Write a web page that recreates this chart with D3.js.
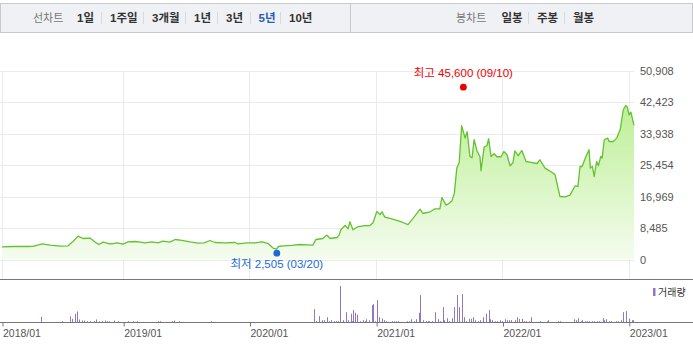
<!DOCTYPE html>
<html lang="ko">
<head>
<meta charset="utf-8">
<script src="https://cdn.jsdelivr.net/npm/d3@7"></script>
<style>
  body { margin: 0; background: #fff; }
  svg { display: block; font-family: "Liberation Sans", "Noto Sans CJK KR", sans-serif; }
  .grid line { stroke: #ebebeb; stroke-width: 1; shape-rendering: crispEdges; }
  .frame { stroke: #777; stroke-width: 1; shape-rendering: crispEdges; }
  .price-line { fill: none; stroke: #62c230; stroke-width: 1.3; stroke-linejoin: round; }
  .vol-bar { fill: #8f79c7; }
  .axis text { fill: #555; }
  .tab { font-size: 11.5px; font-weight: bold; fill: #333; }
  .tab-title { font-size: 11px; fill: #777; }
</style>
</head>
<body>
<svg id="chart" width="693" height="354"></svg>
<script>
// ---- data ----
const dateRange = ["2018-01-16", "2023-01-16"];
const xTickDates = ["2018-01-16", "2019-01-01", "2020-01-01", "2021-01-01", "2022-01-01", "2023-01-01"];
const yTickValues = [0, 8485, 16969, 25454, 33938, 42423, 50908];

const priceDates = [
  "2018-01-16", "2018-02-17", "2018-03-29", "2018-04-16", "2018-05-12", "2018-06-04", "2018-07-03", "2018-07-26",
  "2018-08-09", "2018-08-24", "2018-09-07", "2018-09-27", "2018-10-12", "2018-10-23", "2018-11-04", "2018-11-18",
  "2018-11-30", "2018-12-14",
  "2019-01-01", "2019-01-15", "2019-02-04", "2019-02-19", "2019-03-05", "2019-03-25", "2019-04-12", "2019-04-26",
  "2019-05-16", "2019-05-31", "2019-06-20", "2019-07-13", "2019-08-05", "2019-08-23", "2019-09-09", "2019-09-23",
  "2019-10-22", "2019-11-20", "2019-11-29", "2019-12-25",
  "2020-01-17", "2020-02-06", "2020-02-23", "2020-03-09", "2020-03-19", "2020-03-25", "2020-04-07", "2020-05-03",
  "2020-05-26", "2020-06-15", "2020-07-02", "2020-07-11", "2020-07-31", "2020-08-12", "2020-08-21", "2020-09-10",
  "2020-09-16", "2020-09-21", "2020-10-03", "2020-10-12", "2020-10-17", "2020-10-26", "2020-11-09", "2020-11-24",
  "2020-12-14", "2020-12-23",
  "2021-01-03", "2021-01-12", "2021-01-18", "2021-01-26", "2021-02-10", "2021-03-02", "2021-03-19", "2021-04-03",
  "2021-04-17", "2021-05-08", "2021-05-16", "2021-06-06", "2021-06-20", "2021-07-04", "2021-07-10", "2021-07-22",
  "2021-08-02", "2021-08-08", "2021-08-15", "2021-08-22", "2021-08-29", "2021-09-05", "2021-09-15", "2021-09-21",
  "2021-09-29", "2021-10-05", "2021-10-11", "2021-10-19", "2021-10-28", "2021-10-31", "2021-11-09", "2021-11-17",
  "2021-11-22", "2021-11-29", "2021-12-08", "2021-12-16", "2021-12-28",
  "2022-01-05", "2022-01-14", "2022-01-23", "2022-01-31", "2022-02-06", "2022-02-15", "2022-02-26", "2022-03-10",
  "2022-03-21", "2022-04-11", "2022-04-19", "2022-05-04", "2022-05-27", "2022-06-02", "2022-06-16", "2022-07-01",
  "2022-07-15", "2022-07-30", "2022-08-07", "2022-08-13", "2022-08-19", "2022-08-30", "2022-09-08", "2022-09-12",
  "2022-09-18", "2022-09-23", "2022-09-30", "2022-10-05", "2022-10-12", "2022-10-16", "2022-10-22", "2022-11-01",
  "2022-11-05", "2022-11-17", "2022-11-27", "2022-12-07", "2022-12-16", "2022-12-23", "2022-12-27",
  "2023-01-02", "2023-01-07", "2023-01-16"
];
const priceValues = [
  3420, 3500, 3500, 3560, 4230, 3880, 3610, 3690,
  4850, 6300, 5660, 5770, 4690, 4040, 4690, 4310,
  4230, 4500,
  4150, 4770, 4850, 4690, 4500, 4770, 4500, 4960,
  4690, 5390, 5170, 4770, 4420, 4500, 5120, 4580,
  4500, 4580, 4230, 4500,
  4500, 4770, 4360, 3070, 2800, 3500, 3690, 3830,
  4040, 3960, 3880, 5390, 5660, 6570, 5660, 5930,
  6570, 8000, 9160, 8270, 10160, 8000, 8810, 9080,
  9160, 9890,
  12930, 12120, 12850, 11420, 11050, 10510, 9970, 9400,
  11000, 13580, 12390, 12850, 13660, 13660, 16700, 14650,
  15280, 15800, 17890, 24620, 26130, 36020, 32700, 34400,
  27750, 27400, 32250, 29370, 27670, 23900, 30280, 30630,
  32520, 27750, 28480, 27670, 27670,
  29100, 28210, 25240, 26050, 29280, 27940, 29370, 26400,
  26240, 25860, 26860, 24620, 23280, 22820, 16970, 16890,
  17350, 19850, 19670, 25050, 25050, 27750, 29550, 24620,
  25050, 22360, 26400, 25240, 27750, 27320, 32250, 32700,
  31790, 31790, 32700, 34940, 40330, 41490, 41220,
  38980, 39710, 36100
];

const volumeDates = [
  "2018-05-10", "2018-07-09", "2018-08-01", "2018-08-06", "2018-08-16", "2018-08-22", "2018-08-27", "2018-09-03",
  "2018-09-10", "2018-09-19", "2018-09-27", "2018-10-08", "2018-10-15", "2018-10-23", "2018-10-31", "2018-11-09",
  "2018-11-14", "2018-11-20", "2018-12-05", "2018-12-18",
  "2019-01-16", "2019-01-30", "2019-02-11", "2019-04-11", "2019-04-17", "2019-05-21", "2019-05-29", "2019-06-10",
  "2019-09-11",
  "2020-07-06", "2020-07-10", "2020-07-21", "2020-07-28", "2020-08-03", "2020-08-11", "2020-08-19", "2020-08-25",
  "2020-09-01", "2020-09-08", "2020-09-14", "2020-09-18", "2020-09-28", "2020-10-05", "2020-10-12", "2020-10-19",
  "2020-10-22", "2020-10-27", "2020-11-02", "2020-11-06", "2020-11-16", "2020-11-23", "2020-11-30", "2020-12-04",
  "2020-12-10", "2020-12-21", "2020-12-24", "2020-12-30",
  "2021-01-04", "2021-01-08", "2021-01-18", "2021-01-25", "2021-01-29", "2021-02-15", "2021-02-22", "2021-02-26",
  "2021-03-04", "2021-03-30", "2021-04-05", "2021-04-12", "2021-04-19", "2021-04-26", "2021-05-04", "2021-05-07",
  "2021-05-17", "2021-05-24", "2021-05-31", "2021-06-04", "2021-06-10", "2021-06-21", "2021-06-28", "2021-07-05",
  "2021-07-12", "2021-07-16", "2021-07-26", "2021-07-30", "2021-08-09", "2021-08-13", "2021-08-24", "2021-08-27",
  "2021-09-06", "2021-09-13", "2021-09-17", "2021-09-27", "2021-10-01", "2021-10-08", "2021-10-15", "2021-10-22",
  "2021-10-29", "2021-11-05", "2021-11-15", "2021-11-22", "2021-11-26", "2021-12-03", "2021-12-10", "2021-12-17",
  "2021-12-24", "2021-12-30",
  "2022-01-07", "2022-01-13", "2022-01-19", "2022-01-25", "2022-02-07", "2022-02-11", "2022-02-17", "2022-02-25",
  "2022-03-04", "2022-03-11", "2022-03-18", "2022-03-24", "2022-04-18", "2022-05-09", "2022-05-13", "2022-06-10",
  "2022-06-17", "2022-07-26", "2022-08-01", "2022-08-08", "2022-08-15", "2022-08-19", "2022-08-26", "2022-09-02",
  "2022-09-09", "2022-09-16", "2022-09-23", "2022-09-30", "2022-10-06", "2022-10-17", "2022-10-21", "2022-10-27",
  "2022-11-04", "2022-11-10", "2022-11-25", "2022-11-30", "2022-12-09", "2022-12-16", "2022-12-23",
  "2023-01-02", "2023-01-09", "2023-01-13"
];
const volumeValues = [
  56000, 13000, 61000, 37000, 87000, 110000, 30000, 20000,
  20000, 13000, 13000, 16000, 30000, 13000, 13000, 20000,
  13000, 13000, 20000, 13000,
  13000, 13000, 13000, 13000, 13000, 13000, 20000, 13000,
  13000,
  133000, 13000, 63000, 23000, 23000, 53000, 13000, 23000,
  13000, 13000, 13000, 363000, 23000, 103000, 23000, 87000,
  13000, 123000, 97000, 77000, 13000, 23000, 13000, 33000,
  23000, 173000, 183000, 13000,
  223000, 53000, 40000, 23000, 13000, 13000, 13000, 13000,
  13000, 13000, 13000, 33000, 13000, 33000, 97000, 273000,
  23000, 13000, 13000, 13000, 13000, 103000, 33000, 13000,
  153000, 23000, 43000, 13000, 43000, 153000, 273000, 153000,
  283000, 53000, 13000, 37000, 37000, 53000, 23000, 13000,
  23000, 53000, 87000, 123000, 33000, 23000, 13000, 13000,
  23000, 13000,
  33000, 23000, 23000, 23000, 23000, 53000, 37000, 37000,
  13000, 13000, 13000, 53000, 13000, 13000, 23000, 13000,
  13000, 33000, 23000, 43000, 13000, 23000, 13000, 13000,
  13000, 13000, 13000, 13000, 13000, 43000, 23000, 33000,
  13000, 13000, 13000, 13000, 23000, 103000, 113000,
  40000, 23000, 23000
];

const lowMark = { date: "2020-03-20", value: 2505, label: "최저 2,505 (03/20)" };
const highMark = { date: "2021-09-10", value: 45600, label: "최고 45,600 (09/10)" };

const lineTabs = ["1일", "1주일", "3개월", "1년", "3년", "5년", "10년"];
const candleTabs = ["일봉", "주봉", "월봉"];
const activeTab = "5년";

class StockChart {
  constructor(_config) {
    this.config = {
      parentElement: _config.parentElement,
      plotLeft: 2,
      plotRight: 634,
      priceTop: 70.5,
      priceBottom: 259.5,
      panelLine: 279.5,
      volTop: 286,
      volBase: 322.5,
      // toolbar layout, as laid out in the page header
      lineTabX: [77, 110, 152, 194, 226, 258.5, 289],
      candleTabX: [501.5, 537, 573],
    };
    this.initVis();
  }

  initVis() {
    let vis = this;
    const c = vis.config;
    const parse = d3.timeParse("%Y-%m-%d");

    vis.svg = d3.select(c.parentElement);

    vis.prices = priceDates.map((d, i) => ({ date: parse(d), value: priceValues[i] }));
    vis.volumes = volumeDates.map((d, i) => ({ date: parse(d), value: volumeValues[i] }));

    // Scales
    vis.xScale = d3.scaleTime().domain(dateRange.map(parse)).range([c.plotLeft, c.plotRight]);
    vis.yScale = d3.scaleLinear().domain([0, d3.max(yTickValues)]).range([c.priceBottom, c.priceTop]);
    vis.volScale = d3.scaleLinear().domain([0, d3.max(volumeValues)]).range([c.volBase, c.volTop]);

    vis.drawToolbar();
    vis.renderVis(parse);
  }

  drawToolbar() {
    let vis = this;
    const c = vis.config;
    const bar = vis.svg.append("g");
    bar.append("rect")
      .attr("x", 0.5).attr("y", 3.5).attr("width", 692).attr("height", 29)
      .attr("fill", "#f0f1f5").attr("stroke", "#c9cacd");
    bar.append("line")
      .attr("x1", 350.5).attr("x2", 350.5).attr("y1", 4).attr("y2", 32)
      .attr("stroke", "#c9cacd");

    // Tabs with thin separators in between
    const layoutTabs = (title, titleX, tabs, xs) => {
      bar.append("text").attr("class", "tab-title").attr("x", titleX).attr("y", 22).text(title);
      tabs.forEach((t, i) => {
        bar.append("text").attr("class", "tab").attr("x", xs[i]).attr("y", 22).text(t)
          .style("fill", t === activeTab ? "#2a5cb8" : null);
        if (i < tabs.length - 1) {
          const sx = Math.round((xs[i + 1] - 9)) + 0.5;
          bar.append("line").attr("x1", sx).attr("x2", sx)
            .attr("y1", 12).attr("y2", 24).attr("stroke", "#d8d9dc");
        }
      });
    };
    layoutTabs("선차트", 33, lineTabs, c.lineTabX);
    layoutTabs("봉차트", 456, candleTabs, c.candleTabX);
  }

  renderVis(parse) {
    let vis = this;
    const c = vis.config;

    // Grid
    const grid = vis.svg.append("g").attr("class", "grid");
    grid.selectAll(".hgrid").data(yTickValues).join("line")
      .attr("x1", 0).attr("x2", c.plotRight)
      .attr("y1", (d) => Math.round(vis.yScale(d)) + 0.5)
      .attr("y2", (d) => Math.round(vis.yScale(d)) + 0.5);
    grid.selectAll(".vgrid").data(xTickDates.map(parse)).join("line")
      .attr("x1", (d) => Math.round(vis.xScale(d)) + 0.5)
      .attr("x2", (d) => Math.round(vis.xScale(d)) + 0.5)
      .attr("y1", c.priceTop).attr("y2", c.panelLine);

    // Value labels on the right
    const yAxis = d3.axisRight(vis.yScale).tickValues(yTickValues).tickSize(0).tickPadding(6)
      .tickFormat(d3.format(","));
    vis.svg.append("g").attr("class", "axis")
      .attr("transform", `translate(${c.plotRight},0)`)
      .call(yAxis)
      .call((g) => g.select(".domain").remove())
      .selectAll("text").attr("font-size", 11).attr("font-family", "Liberation Sans, sans-serif");

    // Gradient for the area under the price
    const grad = vis.svg.append("defs").append("linearGradient")
      .attr("id", "areaGrad").attr("gradientUnits", "userSpaceOnUse")
      .attr("x1", 0).attr("x2", 0).attr("y1", vis.yScale(40000)).attr("y2", c.priceBottom);
    grad.append("stop").attr("offset", "0%").attr("stop-color", "#bff09a");
    grad.append("stop").attr("offset", "100%").attr("stop-color", "#f5fcef");

    const area = d3.area()
      .x((d) => vis.xScale(d.date))
      .y0(c.priceBottom)
      .y1((d) => vis.yScale(d.value));
    const line = d3.line()
      .x((d) => vis.xScale(d.date))
      .y((d) => vis.yScale(d.value));

    vis.svg.append("path").attr("d", area(vis.prices)).attr("fill", "url(#areaGrad)");
    vis.svg.append("path").attr("class", "price-line").attr("d", line(vis.prices));

    // High / low markers (drawn a few px outside the value, like the original)
    const marks = [
      { m: highMark, color: "#f00000", dy: -3, ty: -10 },
      { m: lowMark, color: "#1c6ad6", dy: 3, ty: 15 },
    ];
    marks.forEach(({ m, color, dy, ty }) => {
      const x = vis.xScale(parse(m.date));
      const y = vis.yScale(m.value) + dy;
      vis.svg.append("circle").attr("cx", x).attr("cy", y).attr("r", 3.4).attr("fill", color);
      vis.svg.append("text").attr("x", x).attr("y", y + ty).attr("text-anchor", "middle")
        .attr("font-size", 11.5).attr("fill", color).text(m.label);
    });

    // Panel separator
    vis.svg.append("line").attr("class", "frame")
      .attr("x1", 0).attr("x2", 693).attr("y1", c.panelLine).attr("y2", c.panelLine);

    // Volume bars
    vis.svg.append("g").selectAll("rect").data(vis.volumes).join("rect")
      .attr("class", "vol-bar")
      .attr("x", (d) => Math.round(vis.xScale(d.date)))
      .attr("width", 1)
      .attr("y", (d) => vis.volScale(d.value))
      .attr("height", (d) => c.volBase - vis.volScale(d.value));

    vis.svg.append("line").attr("class", "frame")
      .attr("x1", 0).attr("x2", 693).attr("y1", c.volBase).attr("y2", c.volBase);

    // Date axis under the volume panel
    const xAxis = d3.axisBottom(vis.xScale)
      .tickValues(xTickDates.map(parse))
      .tickSize(4)
      .tickFormat(d3.timeFormat("%Y/%m"));
    const xg = vis.svg.append("g").attr("class", "axis")
      .attr("transform", `translate(0.5,${c.volBase})`)
      .call(xAxis);
    xg.select(".domain").remove();
    xg.selectAll(".tick line").attr("stroke", "#777");
    xg.selectAll("text")
      .attr("text-anchor", "start").attr("x", 0).attr("y", 7)
      .attr("font-size", 10.5).attr("font-family", "Liberation Sans, sans-serif");

    // Legend
    vis.svg.append("rect").attr("x", 653).attr("y", 288).attr("width", 2.5).attr("height", 8)
      .attr("fill", "#8f79c7");
    vis.svg.append("text").attr("x", 658).attr("y", 296)
      .attr("font-size", 10).attr("fill", "#333").text("거래량");
  }
}

new StockChart({ parentElement: "#chart" });
</script>
</body>
</html>
